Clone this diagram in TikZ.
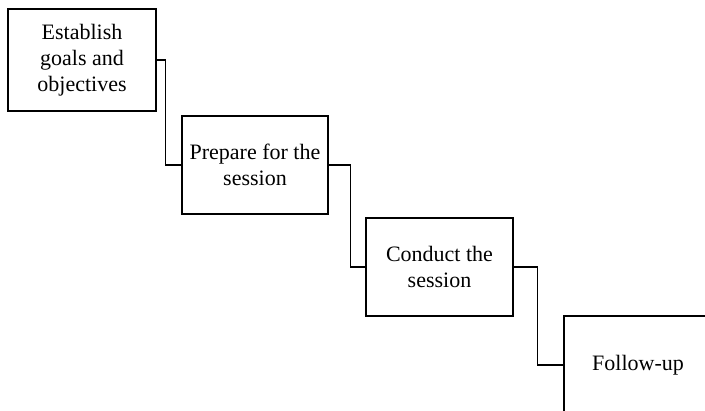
\documentclass[tikz,border=0pt]{standalone}
\usepackage{fontspec}
\setmainfont{Liberation Serif}
\begin{document}
\begin{tikzpicture}[x=1pt,y=-1pt,
  stepbox/.style={draw,line width=1.1pt,rectangle,align=center,inner sep=0pt,
    font=\fontsize{22}{26}\selectfont},
  link/.style={draw,line width=1.1pt}]
  \useasboundingbox (0,0) rectangle (705,411);
  \clip (0,0) rectangle (705,411);
  % process steps
  \node[stepbox,minimum width=148pt,minimum height=102pt] (b1) at (82,60) {Establish\\goals and\\objectives};
  \node[stepbox,minimum width=146pt,minimum height=98pt] (b2) at (255,165) {Prepare for the\\session};
  \node[stepbox,minimum width=147pt,minimum height=98pt] (b3) at (439.5,267) {Conduct the\\session};
  \node[stepbox,minimum width=148pt,minimum height=98pt] (b4) at (638,365) {Follow-up};
  % stepped connectors
  \draw[link] (b1.east) -- ++(9,0) |- (b2.west);
  \draw[link] (b2.east) -- ++(22,0) |- (b3.west);
  \draw[link] (b3.east) -- ++(24,0) |- (b4.west);
\end{tikzpicture}
\end{document}
